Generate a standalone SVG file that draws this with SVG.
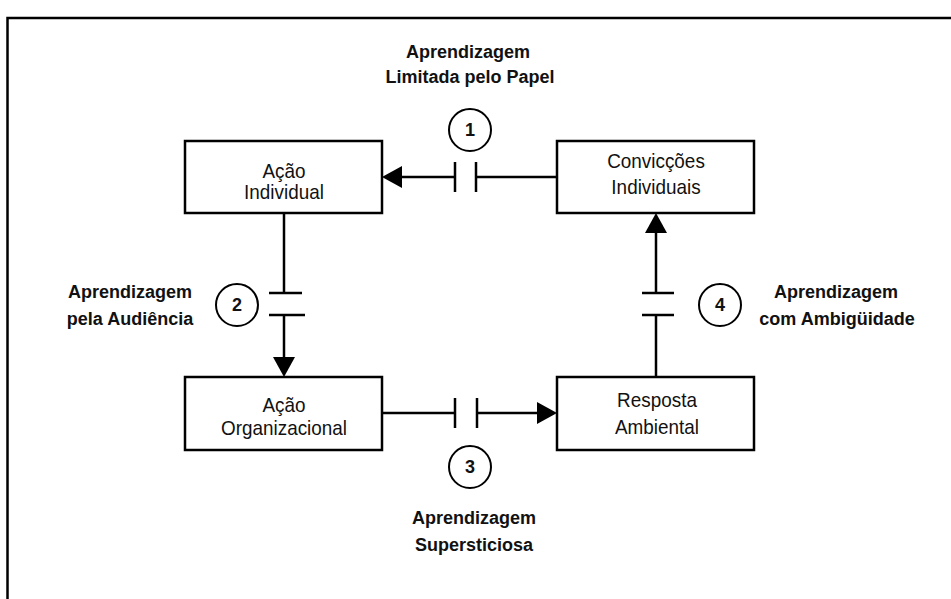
<svg xmlns="http://www.w3.org/2000/svg" width="951" height="599" viewBox="0 0 951 599">
<style>
.box{fill:#fff;stroke:#000;stroke-width:2.5}
.ln{fill:none;stroke:#000;stroke-width:2.5}
.bar{fill:none;stroke:#000;stroke-width:2.5}
.ah{fill:#000;stroke:none}
.circ{fill:#fff;stroke:#000;stroke-width:2}
.bt{font-family:"Liberation Sans",Arial,sans-serif;font-size:21px;fill:#111;text-anchor:middle}
.lab{font-family:"Liberation Sans",Arial,sans-serif;font-size:18px;font-weight:bold;fill:#111;text-anchor:middle}
.num{font-family:"Liberation Sans",Arial,sans-serif;font-size:18px;font-weight:bold;fill:#111;text-anchor:middle}
</style>
<rect width="951" height="599" fill="#fff"/>
<path d="M7.5 599 V18 H951" fill="none" stroke="#000" stroke-width="2.5"/>
<g id="connectors">
<g id="c1">
<line class="ln" x1="557" y1="177" x2="476" y2="177"/>
<line class="bar" x1="476" y1="162" x2="476" y2="192"/>
<line class="bar" x1="455" y1="162" x2="455" y2="192"/>
<line class="ln" x1="455" y1="177" x2="400" y2="177"/>
<polygon class="ah" points="382,177 402,166 402,188"/>
</g>
<g id="c2">
<line class="ln" x1="284" y1="213" x2="284" y2="293"/>
<line class="bar" x1="269" y1="293" x2="302" y2="293"/>
<line class="bar" x1="269" y1="315" x2="305" y2="315"/>
<line class="ln" x1="284" y1="315" x2="284" y2="359"/>
<polygon class="ah" points="284,377 273,357 295,357"/>
</g>
<g id="c3">
<line class="ln" x1="382" y1="413" x2="455" y2="413"/>
<line class="bar" x1="455" y1="398" x2="455" y2="428"/>
<line class="bar" x1="477" y1="398" x2="477" y2="428"/>
<line class="ln" x1="477" y1="413" x2="539" y2="413"/>
<polygon class="ah" points="557,413 537,402 537,424"/>
</g>
<g id="c4">
<line class="ln" x1="656" y1="377" x2="656" y2="315"/>
<line class="bar" x1="642" y1="315" x2="674" y2="315"/>
<line class="bar" x1="642" y1="293" x2="674" y2="293"/>
<line class="ln" x1="656" y1="293" x2="656" y2="231"/>
<polygon class="ah" points="656,213 645,233 667,233"/>
</g>
</g>
<g id="n-acao-individual">
<rect class="box" x="185" y="141" width="197" height="72"/>
<text class="bt" transform="translate(284,178) scale(0.9,1)">Ação</text>
<text class="bt" transform="translate(284,199) scale(0.9,1)">Individual</text>
</g>
<g id="n-conviccoes">
<rect class="box" x="557" y="141" width="197" height="72"/>
<text class="bt" transform="translate(656,168) scale(0.9,1)">Convicções</text>
<text class="bt" transform="translate(656,194) scale(0.9,1)">Individuais</text>
</g>
<g id="n-acao-organizacional">
<rect class="box" x="185" y="377" width="197" height="73"/>
<text class="bt" transform="translate(284,412) scale(0.9,1)">Ação</text>
<text class="bt" transform="translate(284,435) scale(0.9,1)">Organizacional</text>
</g>
<g id="n-resposta">
<rect class="box" x="557" y="377" width="197" height="73"/>
<text class="bt" transform="translate(657,407) scale(0.9,1)">Resposta</text>
<text class="bt" transform="translate(657,434) scale(0.9,1)">Ambiental</text>
</g>
<g id="m1">
<circle class="circ" cx="470" cy="130" r="21"/>
<text class="num" x="470" y="136">1</text>
</g>
<g id="m2">
<circle class="circ" cx="237" cy="305" r="21"/>
<text class="num" x="237" y="311">2</text>
</g>
<g id="m3">
<circle class="circ" cx="470" cy="467" r="21"/>
<text class="num" x="470" y="473">3</text>
</g>
<g id="m4">
<circle class="circ" cx="720" cy="305" r="21"/>
<text class="num" x="720" y="311">4</text>
</g>
<g id="l1">
<text class="lab" x="468" y="58">Aprendizagem</text>
<text class="lab" x="470" y="83">Limitada pelo Papel</text>
</g>
<g id="l2">
<text class="lab" x="130" y="298">Aprendizagem</text>
<text class="lab" x="130" y="325">pela Audiência</text>
</g>
<g id="l3">
<text class="lab" x="474" y="524">Aprendizagem</text>
<text class="lab" x="474" y="551">Supersticiosa</text>
</g>
<g id="l4">
<text class="lab" x="836" y="298">Aprendizagem</text>
<text class="lab" x="837" y="325">com Ambigüidade</text>
</g>
</svg>
